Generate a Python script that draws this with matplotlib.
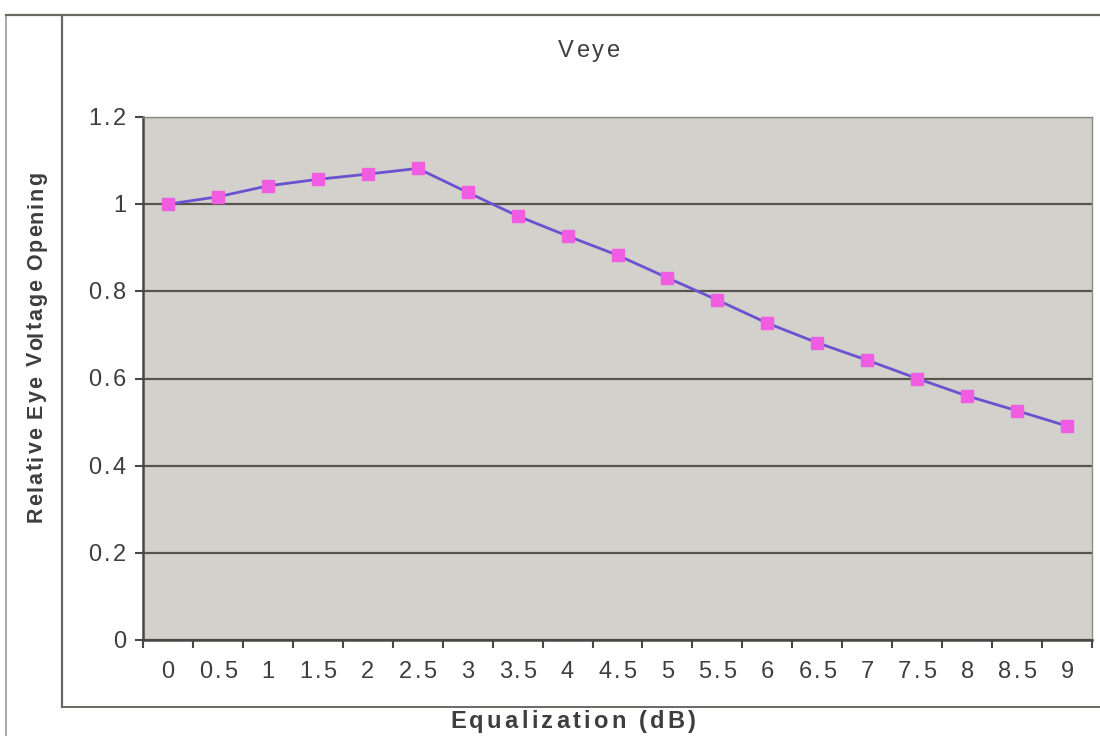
import matplotlib
matplotlib.use("Agg")
import matplotlib.pyplot as plt
from matplotlib.lines import Line2D
from matplotlib.font_manager import FontProperties
import numpy as np

plt.rcParams['font.family'] = ['Liberation Sans', 'DejaVu Sans']

# Equalization settings (dB) and the measured relative eye opening
eq_labels = ["0", "0.5", "1", "1.5", "2", "2.5", "3", "3.5", "4", "4.5",
             "5", "5.5", "6", "6.5", "7", "7.5", "8", "8.5", "9"]
eye_opening = [1.000, 1.017, 1.042, 1.057, 1.069, 1.082, 1.027, 0.973,
               0.927, 0.883, 0.831, 0.780, 0.727, 0.682, 0.642, 0.600,
               0.560, 0.526, 0.491]
y_ticks = [0, 0.2, 0.4, 0.6, 0.8, 1.0, 1.2]
y_tick_labels = ["0", "0.2", "0.4", "0.6", "0.8", "1", "1.2"]

TEXT_COL = "#3e3e3e"
W, H = 1100, 736
fig = plt.figure(figsize=(W / 100, H / 100), dpi=100)
fig.patch.set_facecolor("white")
renderer = fig.canvas.get_renderer()


def fx(px):
    return px / W


def fy(py):
    return 1 - py / H


def tracked_text(x_px, y_px, s, size, tracking, weight="normal",
                 align="center", vertical=False):
    """Draw a string with extra letter spacing.

    Positions are pixels measured from the top-left; y_px (or x_px when
    vertical) is the baseline, the other coordinate is set by align.
    """
    prop = FontProperties(family=['Liberation Sans', 'DejaVu Sans'],
                          size=size, weight=weight)

    def width(t):
        if not t:
            return 0.0
        return renderer.get_text_width_height_descent(t, prop, ismath=False)[0]

    total = width(s) + tracking * (len(s) - 1)
    if align == "center":
        start = -total / 2
    elif align == "right":
        start = -total
    else:
        start = 0.0
    for i, ch in enumerate(s):
        if ch == " ":
            continue
        off = start + width(s[:i]) + tracking * i
        if vertical:
            fig.text(fx(x_px), fy(y_px - off), ch, rotation=90, ha="left",
                     va="baseline", rotation_mode="anchor", fontproperties=prop,
                     color=TEXT_COL)
        else:
            fig.text(fx(x_px + off), fy(y_px), ch, ha="left", va="baseline",
                     fontproperties=prop, color=TEXT_COL)


# Outer page frame and chart-area frame
frame_col = "#6b6862"
fig.add_artist(Line2D([fx(6), fx(6)], [fy(15), fy(740)], color="#9a9a9a", lw=1.2))
fig.add_artist(Line2D([fx(6), fx(1100)], [fy(15), fy(15)], color=frame_col, lw=1.6))
fig.add_artist(Line2D([fx(62), fx(62)], [fy(16), fy(707)], color=frame_col, lw=1.6))
fig.add_artist(Line2D([fx(62), fx(1100)], [fy(707), fy(707)], color=frame_col, lw=1.4))

ax = fig.add_axes([fx(143), fy(640), fx(1092) - fx(143), fy(117) - fy(640)])
ax.set_facecolor("#d3d1cc")

n = len(eq_labels)
x = np.arange(n)
ax.set_xlim(-0.5, n - 0.5)
ax.set_ylim(0, 1.2)

ax.set_yticks(y_ticks)
ax.set_yticklabels([])
ax.yaxis.grid(True, color="#57534d", lw=1.6)
ax.set_axisbelow(True)

ax.set_xticks(x)
ax.set_xticklabels([])
ax.set_xticks(np.arange(-0.5, n, 1.0), minor=True)
ax.tick_params(axis="x", which="major", length=0)
ax.tick_params(axis="x", which="minor", length=6, width=1.5, color="#4a4742", direction="out")
ax.tick_params(axis="y", which="major", length=6, width=1.5, color="#4a4742")

for side in ("left", "bottom"):
    ax.spines[side].set_color("#4a4742")
    ax.spines[side].set_linewidth(1.8)
for side in ("top", "right"):
    ax.spines[side].set_color("#8e8b86")
    ax.spines[side].set_linewidth(1.0)

ax.plot(x, eye_opening, color="#6a52d0", lw=2.0, marker="s", markersize=8.5,
        markerfacecolor="#f05ce2", markeredgecolor="#f05ce2", zorder=3, clip_on=False)

# Tick labels with letter spacing, placed through the axes transform
for i, lab in enumerate(eq_labels):
    px, _ = ax.transData.transform((i, 0))
    tracked_text(px, 678, lab, 17, 2.5)
for val, lab in zip(y_ticks, y_tick_labels):
    _, py = ax.transData.transform((0, val))
    tracked_text(126, H - py + 8, lab, 17, 2.5, align="right")

tracked_text(589, 57, "Veye", 17, 3.5)
tracked_text(42, 347, "Relative Eye Voltage Opening", 15.5, 1.8, weight="bold",
             vertical=True)
tracked_text(573, 728, "Equalization (dB)", 17, 3.3, weight="bold")

fig.savefig("out.png", dpi=100)
